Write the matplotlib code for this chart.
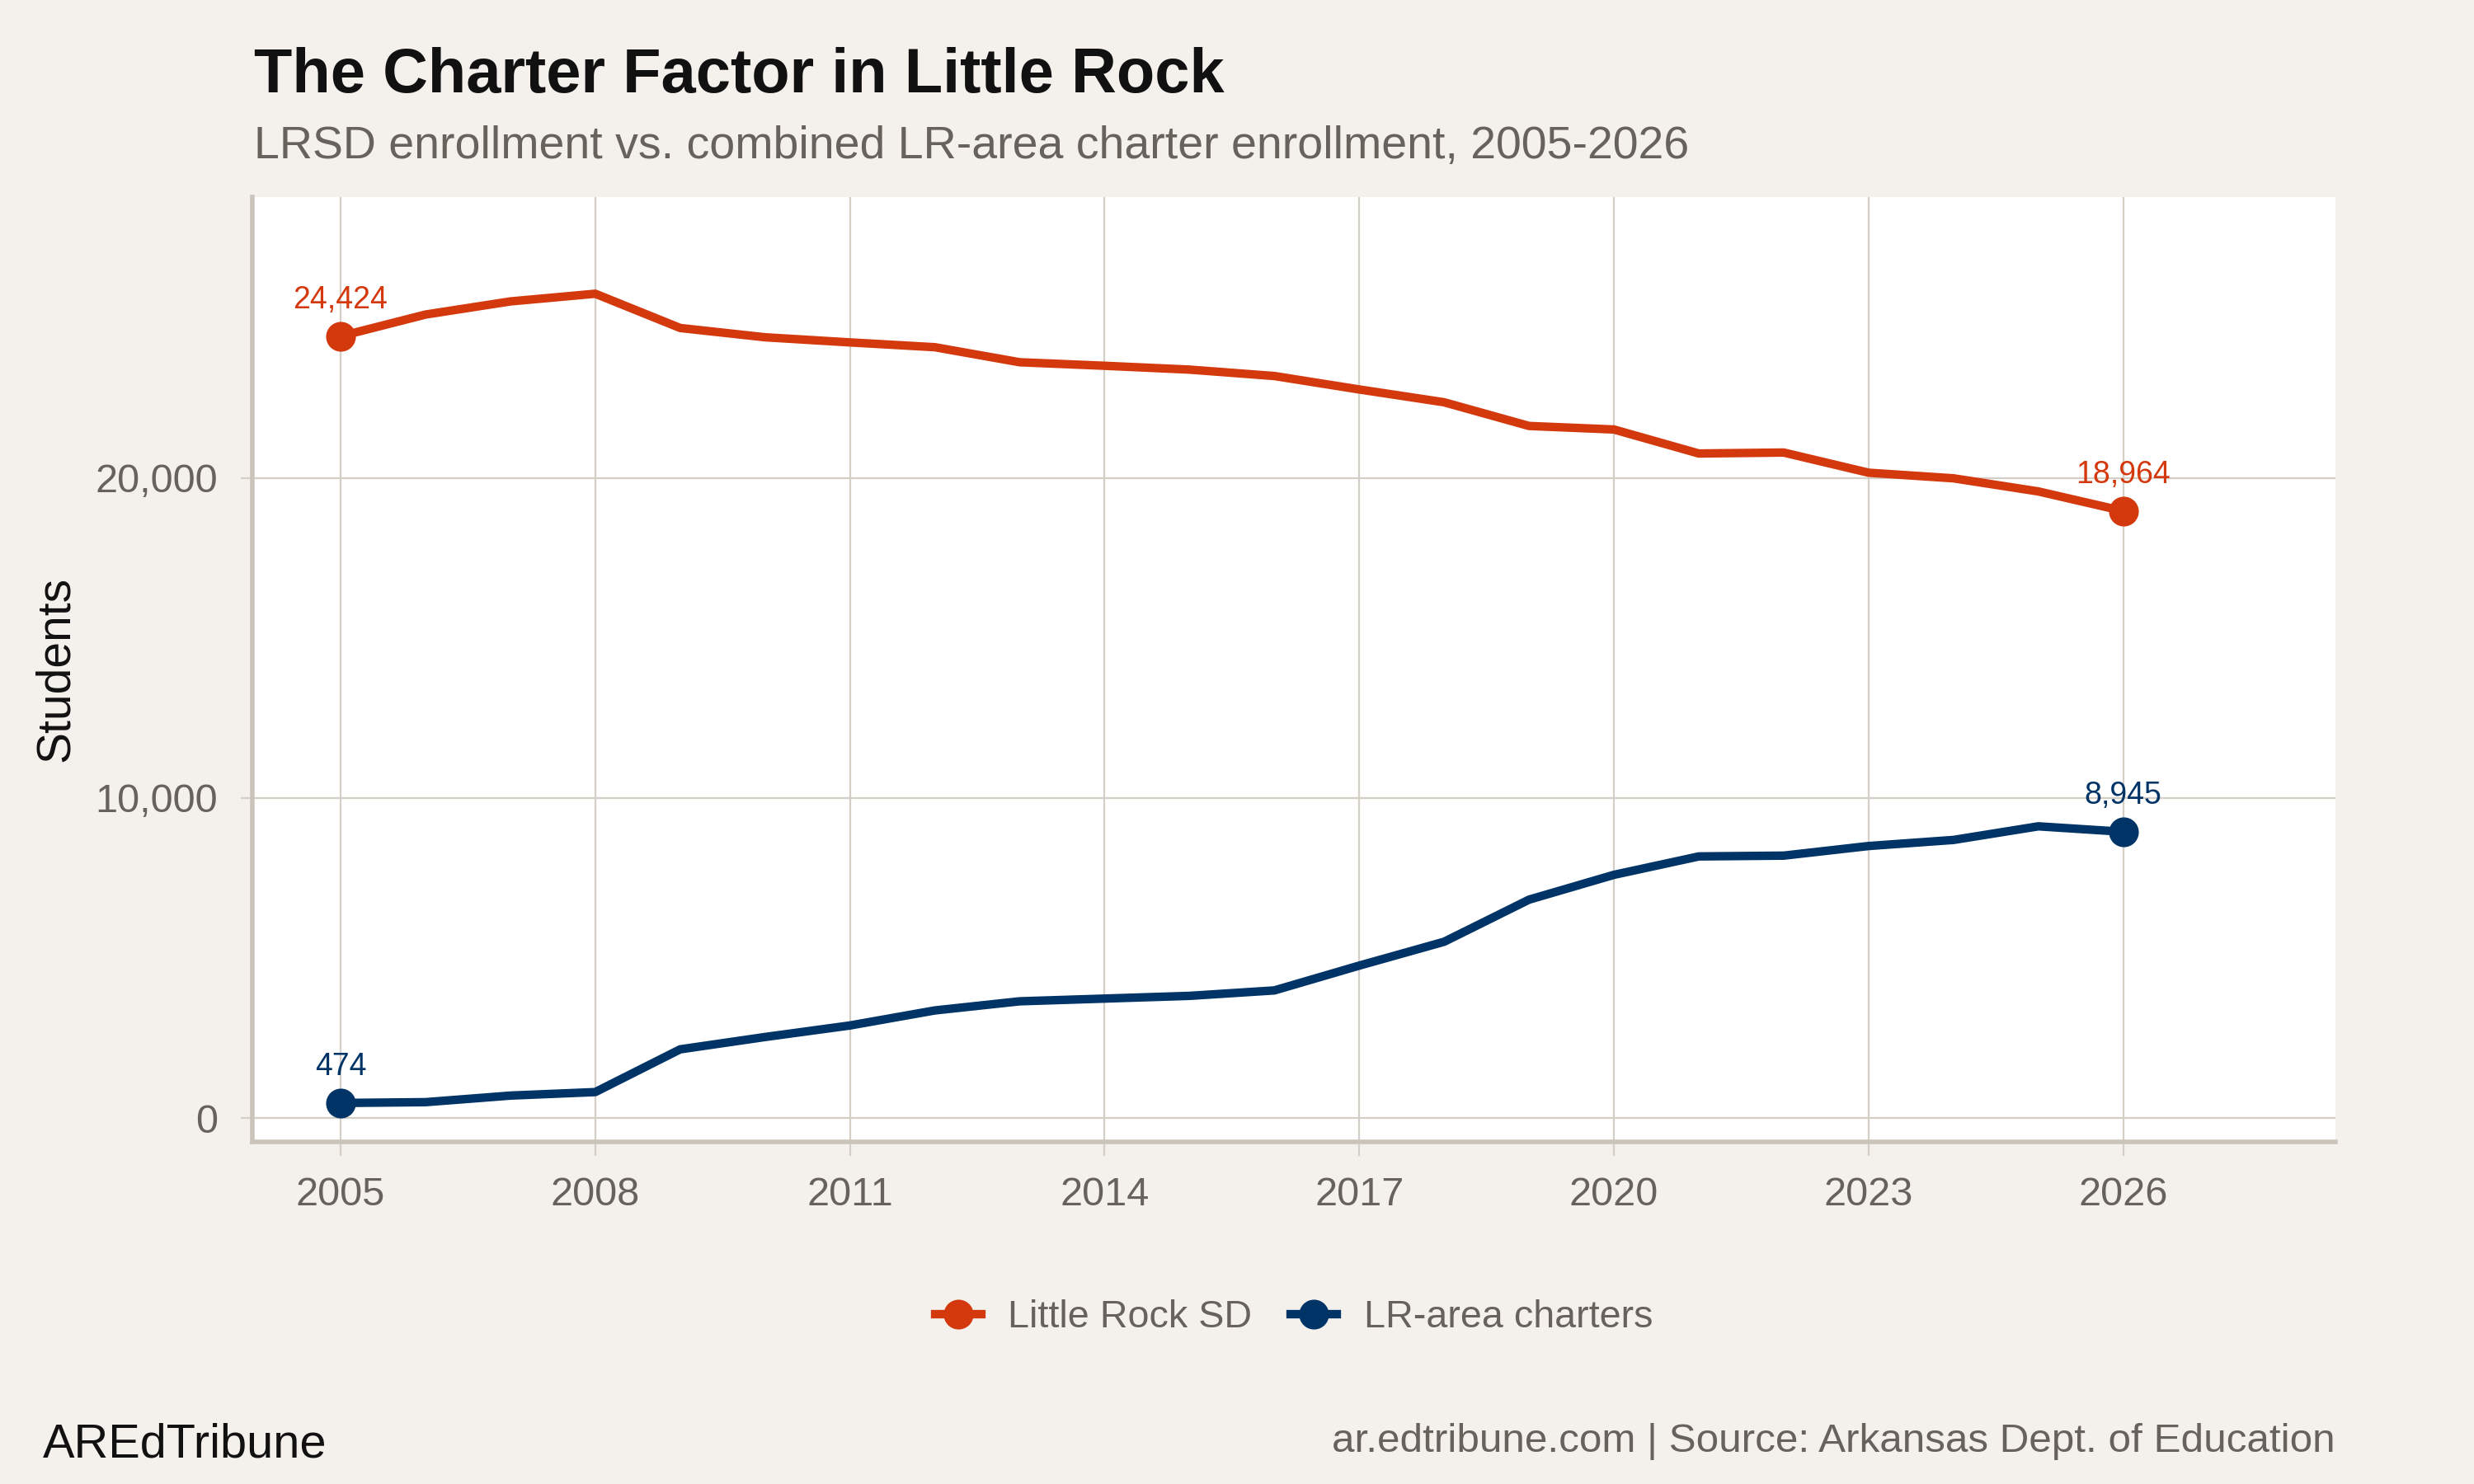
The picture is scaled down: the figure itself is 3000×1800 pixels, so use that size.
import matplotlib.pyplot as plt
from matplotlib.ticker import FuncFormatter

plt.rcParams['font.family'] = ['Liberation Sans', 'DejaVu Sans']

# enrollment
years = list(range(2005, 2027))
lrsd = [24424, 25100, 25510, 25750, 24680, 24390, 24230, 24080, 23610, 23500, 23380,
        23180, 22760, 22360, 21620, 21510, 20760, 20790, 20160, 19985, 19575, 18964]
charters = [474, 500, 705, 815, 2150, 2535, 2895, 3365, 3650, 3735, 3820,
            3990, 4765, 5510, 6825, 7600, 8175, 8200, 8500, 8690, 9115, 8945]
xticks = [2005, 2008, 2011, 2014, 2017, 2020, 2023, 2026]
yticks = [0, 10000, 20000]

RED = '#D4380D'
BLUE = '#003366'
BG = '#F4F1EC'
GRID = '#D3CEC6'
AXC = '#CBC4BA'
GRAY = '#67625C'

W, H = 3000, 1800
fig = plt.figure(figsize=(15, 9), dpi=200, facecolor=BG)
ax = fig.add_axes([306 / W, 1 - 1385 / H, (2832 - 306) / W, (1385 - 239) / H])
ax.set_facecolor('white')

ax.plot(years, lrsd, color=RED, lw=3.7, label='Little Rock SD')
ax.plot(years, charters, color=BLUE, lw=3.7, label='LR-area charters')
ax.plot([years[0], years[-1]], [lrsd[0], lrsd[-1]], 'o', color=RED, ms=12, zorder=4)
ax.plot([years[0], years[-1]], [charters[0], charters[-1]], 'o', color=BLUE, ms=12, zorder=4)

for x, y, c in [(years[0], lrsd[0], RED), (years[-1], lrsd[-1], RED),
                (years[0], charters[0], BLUE), (years[-1], charters[-1], BLUE)]:
    ax.annotate('{:,}'.format(y), (x, y), xytext=(0, 12.2), textcoords='offset points',
                ha='center', va='baseline', color=c, fontsize=13.5)

ax.set_xlim(2003.96, 2028.5)
ax.set_ylim(-740, 28770)
ax.set_xticks(xticks)
ax.set_yticks(yticks)
ax.yaxis.set_major_formatter(FuncFormatter(lambda v, p: '{:,.0f}'.format(v)))
ax.grid(True, color=GRID, lw=0.8)
ax.set_axisbelow(True)
for s in ['top', 'right']:
    ax.spines[s].set_visible(False)
for s in ['left', 'bottom']:
    ax.spines[s].set_color(AXC)
    ax.spines[s].set_linewidth(2.0)
ax.tick_params(axis='x', length=6, width=0.8, color=GRID, labelcolor=GRAY, labelsize=17.5, pad=9)
ax.tick_params(axis='y', length=5, width=0.8, color=GRID, labelcolor=GRAY, labelsize=17.5, pad=10)

fig.text(68 / W, 1 - 812 / H, 'Students', rotation=90, ha='center', va='center',
         fontsize=20.5, color='#111111')

fig.text(308 / W, 1 - 112 / H, 'The Charter Factor in Little Rock', fontsize=27.3,
         fontweight='bold', color='#111111', ha='left', va='baseline')
fig.text(308 / W, 1 - 192 / H, 'LRSD enrollment vs. combined LR-area charter enrollment, 2005-2026',
         fontsize=20, color=GRAY, ha='left', va='baseline')

fig.legend(loc='center', bbox_to_anchor=(1569 / W, 1 - 1598 / H), ncol=2, frameon=False,
           fontsize=16.8, labelcolor=GRAY, handlelength=1.2, columnspacing=1.0,
           handletextpad=0.7, markerscale=1)
for h in fig.legends[0].legend_handles:
    h.set_marker('o')
    h.set_markersize(12)

fig.text(52 / W, 1 - 1767 / H, 'AREdTribune', fontsize=20.8, color='#111111',
         ha='left', va='baseline')
fig.text(2832 / W, 1 - 1761 / H, 'ar.edtribune.com | Source: Arkansas Dept. of Education',
         fontsize=17.8, color=GRAY, ha='right', va='baseline')

fig.savefig('out.png', dpi=200, facecolor=BG)
